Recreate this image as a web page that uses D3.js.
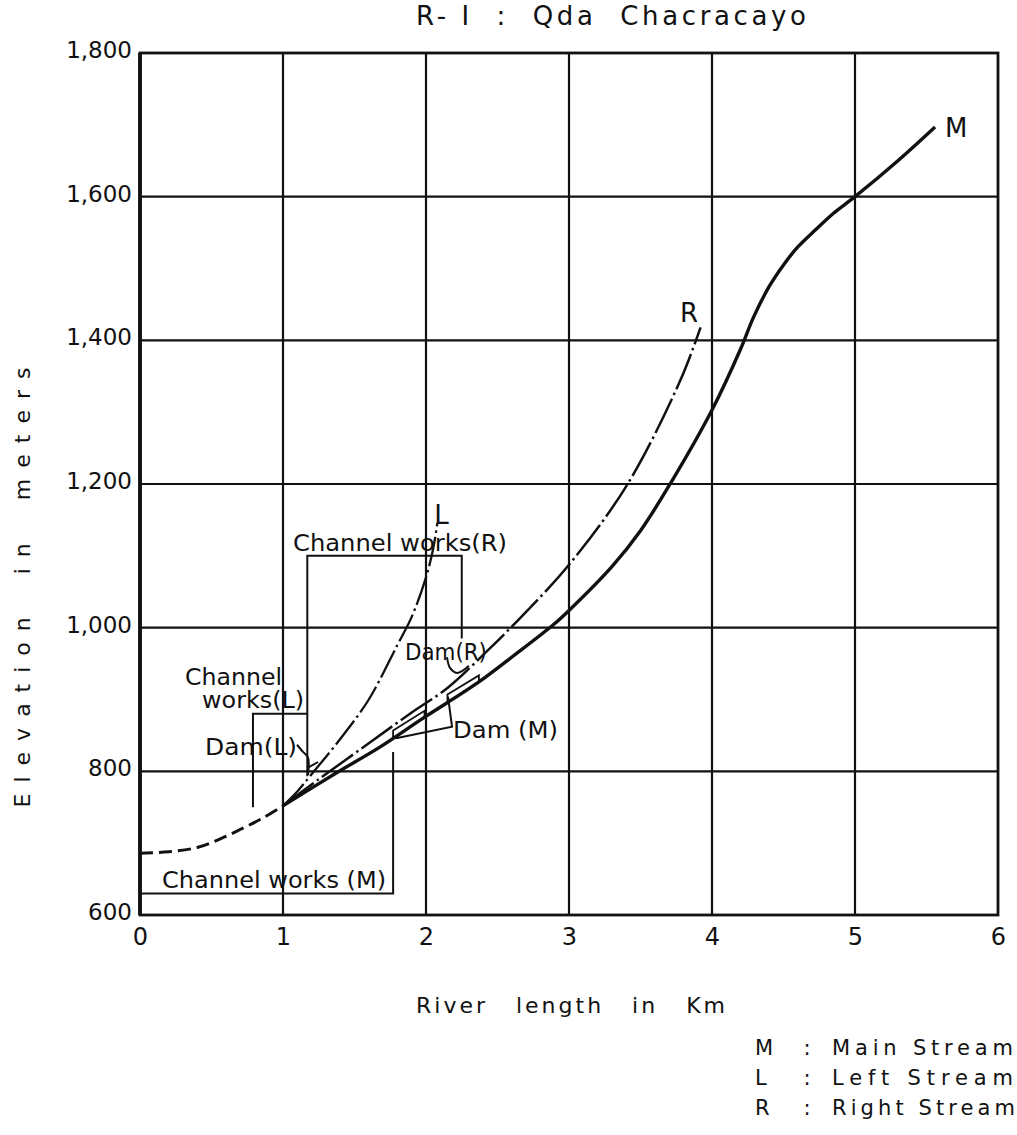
<!DOCTYPE html>
<html><head><meta charset="utf-8">
<script src="https://cdn.jsdelivr.net/npm/d3@7"></script>
<style>body{margin:0;background:#fff}svg{display:block}text{fill:#111;font-family:"DejaVu Sans",Verdana,sans-serif}</style>
</head><body>
<svg id="c" width="1017" height="1135"></svg>
<script>
// ---- data ----
const xTicks = [0,1,2,3,4,5,6];
const xTickLabels = ["0","1","2","3","4","5","6"];
const yTicks = [600,800,1000,1200,1400,1600,1800];
const yTickLabels = ["600","800","1,000","1,200","1,400","1,600","1,800"];

// Main stream: dashed lower reach and solid upper reach (km, m)
const mainLower = [[0,686],[0.2,688],[0.4,694],[0.55,705],[0.7,719],[0.85,734],[1.0,752]];
const mainStream = [[1.0,752],[1.375,798],[1.68,834],[1.98,874],[2.36,923],[2.62,962],[2.89,1004],[3.0,1024],[3.3,1085],[3.5,1135],[3.71,1201],[4.0,1303],[4.2,1388],[4.29,1432],[4.4,1475],[4.5,1505],[4.6,1530],[4.73,1555],[4.85,1577],[5.0,1600],[5.3,1650],[5.56,1697]];
const rightStream = [[1.0,752],[1.25,789],[1.6,839],[1.9,882],[2.15,916],[2.43,968],[2.7,1022],[3.01,1090],[3.41,1200],[3.78,1345],[3.92,1418]];
const leftStream = [[1.0,752],[1.1,772],[1.2,796],[1.4,845],[1.6,900],[1.8,976],[1.9,1015],[2.0,1070],[2.05,1110],[2.08,1146]];

// annotation geometry (km, m)
const bracketM = [[0,630],[1.77,630],[1.77,827]];
const bracketL = [[0.79,750],[0.79,880],[1.17,880]];
const bracketR = [[1.17,793],[1.17,1100],[2.25,1100],[2.25,985]];
const damLLeader = [[1.098,837],[1.14,827],[1.175,819],[1.175,795]];
const damLTick = [[1.175,805],[1.245,813]];
const damRLeader = [[2.147,959],[2.168,944],[2.217,937],[2.255,940],[2.30,947]];
const damMLeader = [[1.79,846],[2.182,862],[2.154,904]];
const damSpans = [[1.77,1.99],[2.15,2.37]];

const annoTexts = ["Channel works(R)","Channel","works(L)","Dam(L)","Dam(R)","Dam (M)","Channel works (M)"];
const annoAt = [[1.07,1107],[0.315,920],[0.434,888],[0.455,823],[1.853,955],[2.189,846],[0.154,638]];
const annoLen = [214,97,102,92,82,105,224];

const seriesLabels = ["M","R","L"];
const seriesLabelAt = [[5.63,1683],[3.776,1425],[2.058,1144]];

const legendKeys = ["M","L","R"];
const legendNames = ["Main Stream","Left Stream","Right Stream"];

// ---- drawing ----
const svg = d3.select("#c");
const x = d3.scaleLinear().domain([0,6]).range([140,998]);
const y = d3.scaleLinear().domain([600,1800]).range([915,53]);
const line = d3.line().x(d=>x(d[0])).y(d=>y(d[1]));
const curve = d3.line().x(d=>x(d[0])).y(d=>y(d[1])).curve(d3.curveCatmullRom.alpha(0.5));

// grid
const g = svg.append("g");
g.selectAll(".vg").data(xTicks.slice(1,-1)).join("line")
  .attr("x1",d=>x(d)).attr("x2",d=>x(d)).attr("y1",y(1800)).attr("y2",y(600))
  .attr("stroke","#111").attr("stroke-width",2.2);
g.selectAll(".hg").data(yTicks.slice(1,-1)).join("line")
  .attr("y1",d=>y(d)).attr("y2",d=>y(d)).attr("x1",x(0)).attr("x2",x(6))
  .attr("stroke","#111").attr("stroke-width",2.2);
g.append("rect").attr("x",x(0)).attr("y",y(1800)).attr("width",x(6)-x(0)).attr("height",y(600)-y(1800))
  .attr("fill","none").attr("stroke","#111").attr("stroke-width",2.8);
g.append("line").attr("x1",x(0)).attr("x2",x(0)).attr("y1",y(1800)).attr("y2",y(600))
  .attr("stroke","#111").attr("stroke-width",3.8);

// axes labels
const xa = d3.axisBottom(x).tickValues(xTicks).tickFormat((d,i)=>xTickLabels[i]).tickSize(0).tickPadding(13);
const xg = svg.append("g").attr("transform",`translate(0,${y(600)})`).call(xa);
xg.select(".domain").remove();
xg.selectAll("text").attr("font-size",24).attr("font-family","DejaVu Sans, Verdana, sans-serif").attr("fill","#111");
const ya = d3.axisLeft(y).tickValues(yTicks).tickFormat((d,i)=>yTickLabels[i]).tickSize(0).tickPadding(8);
const yg = svg.append("g").attr("transform",`translate(${x(0)},0)`).call(ya);
yg.select(".domain").remove();
yg.selectAll("text").attr("font-size",23).attr("dy","0.2em").attr("font-family","DejaVu Sans, Verdana, sans-serif").attr("fill","#111");

// curves
svg.append("path").attr("d",curve(mainLower)).attr("fill","none").attr("stroke","#111")
  .attr("stroke-width",3).attr("stroke-dasharray","13,6");
svg.append("path").attr("d",curve(mainStream)).attr("fill","none").attr("stroke","#111").attr("stroke-width",3.4);
svg.append("path").attr("d",curve(rightStream)).attr("fill","none").attr("stroke","#111")
  .attr("stroke-width",2.5).attr("stroke-dasharray","38,4,2.5,4");
svg.append("path").attr("d",curve(leftStream)).attr("fill","none").attr("stroke","#111")
  .attr("stroke-width",2.3).attr("stroke-dasharray","30,4,2.5,4");

// annotation lines
[bracketM,bracketL,bracketR,damMLeader,damLTick].forEach(p=>{
  svg.append("path").attr("d",line(p)).attr("fill","none").attr("stroke","#111").attr("stroke-width",2);
});
[damLLeader,damRLeader].forEach(p=>{
  svg.append("path").attr("d",curve(p)).attr("fill","none").attr("stroke","#111").attr("stroke-width",2);
});
// dam bodies along main stream
const mainInterp = v => {
  for(let i=1;i<mainStream.length;i++){
    const a=mainStream[i-1], b=mainStream[i];
    if(v<=b[0]) return a[1]+(b[1]-a[1])*(v-a[0])/(b[0]-a[0]);
  }
  return mainStream[mainStream.length-1][1];
};
damSpans.forEach(s=>{
  const pts=[[s[0],mainInterp(s[0])],[s[0],mainInterp(s[0])+11],[s[1],mainInterp(s[1])+9],[s[1],mainInterp(s[1])]];
  svg.append("path").attr("d",line(pts)+"Z").attr("fill","none").attr("stroke","#111").attr("stroke-width",1.8);
});

// annotation texts
annoTexts.forEach((t,i)=>{
  svg.append("text").attr("x",x(annoAt[i][0])).attr("y",y(annoAt[i][1]))
    .attr("font-size",23).attr("textLength",annoLen[i]).attr("lengthAdjust","spacingAndGlyphs").text(t);
});
seriesLabels.forEach((t,i)=>{
  svg.append("text").attr("x",x(seriesLabelAt[i][0])).attr("y",y(seriesLabelAt[i][1]))
    .attr("font-size",26).text(t);
});

// title
svg.append("text").attr("x",416).attr("y",25).attr("font-size",26).attr("xml:space","preserve")
  .style("white-space","pre").attr("textLength",390).attr("lengthAdjust","spacing").text("R- I  :  Qda  Chacracayo");

// axis titles
svg.append("text").attr("x",572).attr("y",1013).attr("text-anchor","middle").attr("font-size",22)
  .style("letter-spacing","3px").style("word-spacing","18px").text("River length in Km");
svg.append("text").attr("transform","translate(30,582) rotate(-90)").attr("text-anchor","middle").attr("font-size",22)
  .style("letter-spacing","11px").style("word-spacing","14px").text("Elevation in meters");

// legend
legendKeys.forEach((k,i)=>{
  const yy = 1055 + i*30;
  svg.append("text").attr("x",755).attr("y",yy).attr("font-size",21).text(k);
  svg.append("text").attr("x",807).attr("y",yy).attr("text-anchor","middle").attr("font-size",21).text(":");
  svg.append("text").attr("x",832).attr("y",yy).attr("font-size",21)
    .attr("textLength",[181,181,183][i]).attr("lengthAdjust","spacing").text(legendNames[i]);
});
</script>
</body></html>
